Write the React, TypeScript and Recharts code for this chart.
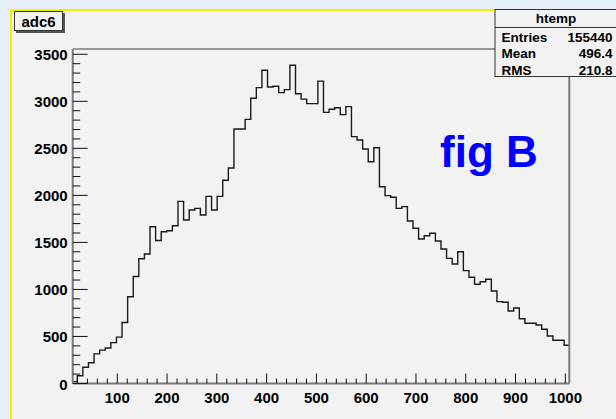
import React from 'react';
import { LineChart, Line, XAxis, YAxis } from 'recharts';

// adc6 histogram contents, one count per bin (89 bins)
const BIN_COUNTS = [
  20, 82, 172, 220, 315, 355, 378, 435, 493, 649,
  922, 1138, 1326, 1376, 1667, 1521, 1613, 1624, 1677, 1936,
  1738, 1844, 1862, 1791, 1989, 1844, 1989, 2160, 2291, 2706,
  2706, 2808, 3032, 3145, 3330, 3152, 3160, 3092, 3124, 3383,
  3080, 3023, 2975, 2975, 3215, 2882, 2915, 2932, 2858, 2943,
  2624, 2589, 2493, 2358, 2507, 2092, 1997, 1980, 1862, 1880,
  1728, 1650, 1536, 1571, 1597, 1515, 1430, 1330, 1270, 1400,
  1200, 1129, 1055, 1082, 1108, 983, 870, 863, 771, 803,
  689, 640, 640, 622, 576, 505, 459, 459, 406,
];
const BIN_LOW = 8.4;
const BIN_WIDTH = 11.24;

const X_DOMAIN: [number, number] = [10.45, 1008];
const Y_DOMAIN: [number, number] = [0, 3556];

const X_MAJOR = [100, 200, 300, 400, 500, 600, 700, 800, 900, 1000];
const Y_MAJOR = [0, 500, 1000, 1500, 2000, 2500, 3000, 3500];
const X_MINOR_STEP = 20;
const Y_MINOR_STEP = 100;

const HIST_NAME = 'htemp';
const TITLE = 'adc6';
const STAT_ROWS: [string, string][] = [
  ['Entries', '155440'],
  ['Mean', '496.4'],
  ['RMS', '210.8'],
];
const NOTE = 'fig B';

const FONT = "'Liberation Sans', Arial, Helvetica, sans-serif";
const FRAME = '#7a7a7a';
const PANEL = '#f2f2f2';

// step outline: one point per low edge, plus the closing edge
const histData = BIN_COUNTS.map((c, i) => ({ x: BIN_LOW + i * BIN_WIDTH, y: c }));
histData.push({ x: BIN_LOW + BIN_COUNTS.length * BIN_WIDTH, y: BIN_COUNTS[BIN_COUNTS.length - 1] });

const xTicks: number[] = [];
for (let v = X_MINOR_STEP; v <= X_MAJOR[X_MAJOR.length - 1]; v += X_MINOR_STEP) xTicks.push(v);
const yTicks: number[] = [];
for (let v = 0; v <= Y_MAJOR[Y_MAJOR.length - 1]; v += Y_MINOR_STEP) yTicks.push(v);

// ROOT-style ticks: drawn inward from the axis line, labels outside
const XTick = (props: any) => {
  const { x, y, payload } = props;
  const major = X_MAJOR.includes(payload.value);
  return (
    <g>
      <line x1={x} x2={x} y1={y} y2={y - (major ? 10 : 5)} stroke="#111" strokeWidth={1} />
      {major && (
        <text x={x} y={y + 19.5} textAnchor="middle" fontFamily={FONT} fontWeight="bold" fontSize={15} fill="#000">
          {payload.value}
        </text>
      )}
    </g>
  );
};

const YTick = (props: any) => {
  const { x, y, payload } = props;
  const major = Y_MAJOR.includes(payload.value);
  return (
    <g>
      <line x1={x} x2={x + (major ? 15 : 7.5)} y1={y} y2={y} stroke="#111" strokeWidth={1} />
      {major && (
        <text x={x - 5} y={y + 6} textAnchor="end" fontFamily={FONT} fontWeight="bold" fontSize={15} fill="#000">
          {payload.value}
        </text>
      )}
    </g>
  );
};

const Overlay = () => (
  <svg width={616} height={419} style={{ position: 'absolute', left: 0, top: 0, pointerEvents: 'none' }}>
    {/* title pave with its shadow */}
    <rect x={16} y={13} width={49} height={20} fill="#555" />
    <rect x={14.5} y={11.5} width={48} height={19} fill={PANEL} stroke="#333" strokeWidth={1} />
    <text x={38.5} y={26.5} textAnchor="middle" fontFamily={FONT} fontWeight="bold" fontSize={15} fill="#000">
      {TITLE}
    </text>

    {/* stats box */}
    <rect x={495} y={9.5} width={125} height={67} fill={PANEL} stroke="#333" strokeWidth={1} />
    <line x1={495} x2={620} y1={27.5} y2={27.5} stroke="#333" strokeWidth={1} />
    <text x={556} y={23} textAnchor="middle" fontFamily={FONT} fontWeight="bold" fontSize={13.5} fill="#000">
      {HIST_NAME}
    </text>
    {STAT_ROWS.map(([k, v], i) => (
      <g key={k}>
        <text x={501.5} y={41.5 + i * 16.7} fontFamily={FONT} fontWeight="bold" fontSize={13.5} fill="#000">
          {k}
        </text>
        <text x={612.5} y={41.5 + i * 16.7} textAnchor="end" fontFamily={FONT} fontWeight="bold" fontSize={13.5} fill="#000">
          {v}
        </text>
      </g>
    ))}

    <text x={440} y={167} fontFamily={FONT} fontWeight="bold" fontSize={44} fill="#0000ff">
      {NOTE}
    </text>
  </svg>
);

export default function App() {
  return (
    <div style={{ position: 'absolute', left: 0, top: 0, width: 616, height: 419, overflow: 'hidden', background: '#e6effa' }}>
      <div
        style={{
          position: 'absolute',
          left: 10,
          top: 9,
          width: 620,
          height: 420,
          background: PANEL,
          borderLeft: '2px solid #f2f200',
          borderTop: '2px solid #f2f200',
        }}
      />
      <div style={{ position: 'absolute', left: 0, top: 0 }}>
        <LineChart width={616} height={419} data={histData} margin={{ top: 48, right: 45.7, bottom: 5.5, left: 12.7 }}>
          <XAxis
            type="number"
            dataKey="x"
            domain={X_DOMAIN}
            allowDataOverflow
            ticks={xTicks}
            interval={0}
            height={30}
            tickSize={0}
            tickMargin={0}
            tickLine={false}
            tick={<XTick />}
            axisLine={{ stroke: FRAME, strokeWidth: 2 }}
          />
          <XAxis xAxisId="top" orientation="top" type="number" domain={X_DOMAIN} allowDataOverflow height={1} tick={false} tickLine={false} axisLine={{ stroke: FRAME, strokeWidth: 1.5 }} />
          <YAxis
            type="number"
            domain={Y_DOMAIN}
            allowDataOverflow
            ticks={yTicks}
            interval={0}
            width={60}
            tickSize={0}
            tickMargin={0}
            tickLine={false}
            tick={<YTick />}
            axisLine={{ stroke: FRAME, strokeWidth: 2 }}
          />
          <YAxis yAxisId="right" orientation="right" type="number" domain={Y_DOMAIN} allowDataOverflow width={1} tick={false} tickLine={false} axisLine={{ stroke: FRAME, strokeWidth: 2 }} />
          <Line type="stepAfter" dataKey="y" stroke="#1a1a1a" strokeWidth={1.4} dot={false} activeDot={false} isAnimationActive={false} />
        </LineChart>
      </div>
      <Overlay />
    </div>
  );
}
